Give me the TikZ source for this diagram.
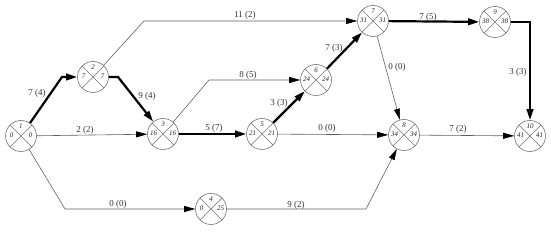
\documentclass[tikz,border=0pt]{standalone}
\usepackage{fontspec}
\setmainfont{Liberation Serif}
\usetikzlibrary{arrows.meta}
\begin{document}
\begin{tikzpicture}[x=1pt,y=-1pt,
  evt/.style={circle,draw=gray!90!black,line width=0.6pt,minimum size=31pt,inner sep=0pt,
    path picture={\draw[gray!90!black,line width=0.6pt]
      (path picture bounding box.north west)--(path picture bounding box.south east)
      (path picture bounding box.north east)--(path picture bounding box.south west);}},
  num/.style={font=\fontsize{7}{8}\selectfont\itshape,inner sep=0pt,text=black!85},
  act/.style={draw=gray!75!black,line width=0.6pt,-{Triangle[length=11pt,width=6pt,color=black]}},
  crit/.style={draw=black,line width=2.2pt,-{Triangle[length=11pt,width=6.5pt]}},
  lbl/.style={font=\fontsize{9}{10}\selectfont,text=black!80,inner sep=0pt}]
\useasboundingbox (0,0) rectangle (551,245);
\newcommand\evt[5]{%
  \node[evt] (n#1) at (#2) {};
  \node[num] (n#1t) at ([yshift=9.5pt]n#1.center) {#3};
  \node[num] (n#1l) at ([xshift=-9.5pt,yshift=0.5pt]n#1.center) {#4};
  \node[num] (n#1r) at ([xshift=9.5pt,yshift=0.5pt]n#1.center) {#5};}
\evt{1}{21,136}{1}{0}{0}
\evt{2}{93,77}{2}{7}{7}
\evt{3}{163,134}{3}{16}{16}
\evt{4}{211,209}{4}{0}{25}
\evt{5}{262,134}{5}{21}{21}
\evt{6}{316,80}{6}{24}{24}
\evt{7}{373,21}{7}{31}{31}
\evt{8}{404,135}{8}{34}{34}
\evt{9}{495,22}{9}{38}{38}
\evt{10}{530,136}{10}{41}{41}
% corners
\coordinate (c12) at (62,77);
\coordinate (c23) at (118,77);
\coordinate (c27) at (144,21);
\coordinate (c14) at (65,209);
\coordinate (c48) at (366,209);
\coordinate (c36) at (209,80);
\coordinate (c910) at (530,22);
% activities
\draw[crit] (n1) -- (c12) -- (n2);
\draw[crit] (n2) -- (c23) -- (n3);
\draw[act] (n2) -- (c27) -- (n7);
\draw[act] (n1) -- (n3);
\draw[act] (n1) -- (c14) -- (n4);
\draw[act] (n4) -- (c48) -- (n8);
\draw[act] (n3) -- (c36) -- (n6);
\draw[crit] (n3) -- (n5);
\draw[crit] (n5) -- (n6);
\draw[act] (n5) -- (n8);
\draw[crit] (n6) -- (n7);
\draw[act] (n7) -- (n8);
\draw[crit] (n7) -- (n9);
\draw[crit] (n9) -- (c910) -- (n10);
\draw[act] (n8) -- (n10);
% labels
\node[lbl] (l12) at (37,93) {7 (4)};
\node[lbl] (l13) at (85,130) {2 (2)};
\node[lbl] (l14) at (118,204) {0 (0)};
\node[lbl] (l27) at (245,15) {11 (2)};
\node[lbl] (l23) at (147,96) {9 (4)};
\node[lbl] (l36) at (248,75) {8 (5)};
\node[lbl] (l35) at (214,128) {5 (7)};
\node[lbl] (l56) at (279,103) {3 (3)};
\node[lbl] (l58) at (327,128) {0 (0)};
\node[lbl] (l67) at (334,48) {7 (3)};
\node[lbl] (l78) at (397,67) {0 (0)};
\node[lbl] (l79) at (428,17) {7 (5)};
\node[lbl] (l910) at (518,72) {3 (3)};
\node[lbl] (l810) at (458,129) {7 (2)};
\node[lbl] (l48) at (296,205) {9 (2)};
\end{tikzpicture}
\end{document}
